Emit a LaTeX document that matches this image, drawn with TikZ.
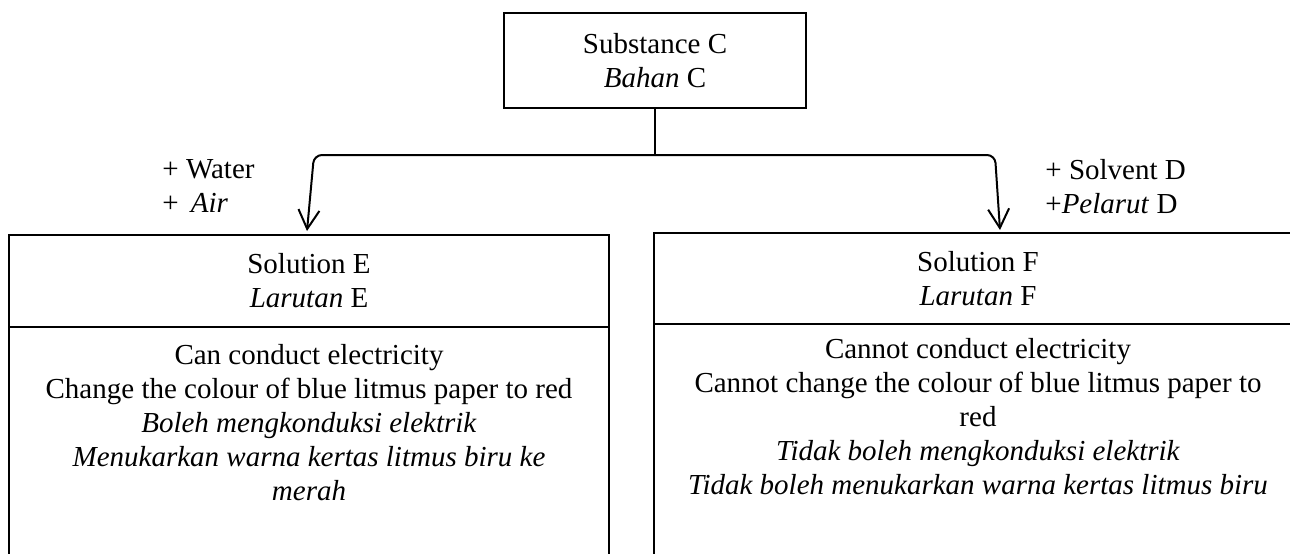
\documentclass[tikz,border=0pt]{standalone}
\usepackage{fontspec}
\setmainfont{Liberation Serif}
\usetikzlibrary{positioning, arrows.meta, calc}
\tikzset{>={Straight Barb[length=9.5pt, width=10.5pt]}}
\tikzset{
    box/.style={draw, line width=1pt, align=center, inner sep=0pt, outer sep=0pt},
    link/.style={line width=1pt, rounded corners=4pt},
    lbl/.style={align=left, anchor=north west, inner sep=0pt},
}

\begin{document}
\begin{tikzpicture}[x=0.5pt, y=-0.5pt, font=\fontsize{14.5}{17}\selectfont]
    \useasboundingbox (0,0) rectangle (1290,553);
    \clip (0,0) rectangle (1290,553);

    \node[box, minimum width=151pt, minimum height=47.5pt] (sub) at (655,60.5) {
        Substance C\\
        \textit{Bahan} C
    };

    \node[box, minimum width=300pt, minimum height=46pt] (headE) at (309,281) {
        Solution E\\
        \textit{Larutan} E
    };
    \node[box, minimum width=300pt, minimum height=150pt, anchor=north] (bodyE) at (headE.south) {};
    \node[align=center, inner sep=0pt, anchor=north, below=8.5pt of bodyE.north] (txtE) {
        Can conduct electricity\\
        Change the colour of blue litmus paper to red\\
        \textit{Boleh mengkonduksi elektrik}\\
        \textit{Menukarkan warna kertas litmus biru ke}\\
        \textit{merah}
    };

    \node[box, minimum width=324pt, minimum height=45.5pt] (headF) at (978,278.5) {
        Solution F\\
        \textit{Larutan} F
    };
    \node[box, minimum width=324pt, minimum height=150pt, anchor=north] (bodyF) at (headF.south) {};
    \node[align=center, inner sep=0pt, anchor=north, below=7pt of bodyF.north] (txtF) {
        Cannot conduct electricity\\
        Cannot change the colour of blue litmus paper to\\
        red\\
        \textit{Tidak boleh mengkonduksi elektrik}\\
        \textit{Tidak boleh menukarkan warna kertas litmus biru}
    };

    \node[lbl] (water) at (162,159) {+ Water\\+ \,\textit{Air}};
    \node[lbl] (solvent) at (1045,159) {+ Solvent D\\+\textit{Pelarut} D};

    \coordinate (split) at (655,155);
    \coordinate (cornerE) at (314,155);
    \coordinate (cornerF) at (995,155);
    \coordinate (tipE) at (307,231);
    \coordinate (tipF) at (1000,230);

    \draw[link] (sub.south) -- (split);
    \draw[link, ->] (split) -- (cornerE) -- (tipE);
    \draw[link, ->] (split) -- (cornerF) -- (tipF);
\end{tikzpicture}
\end{document}
